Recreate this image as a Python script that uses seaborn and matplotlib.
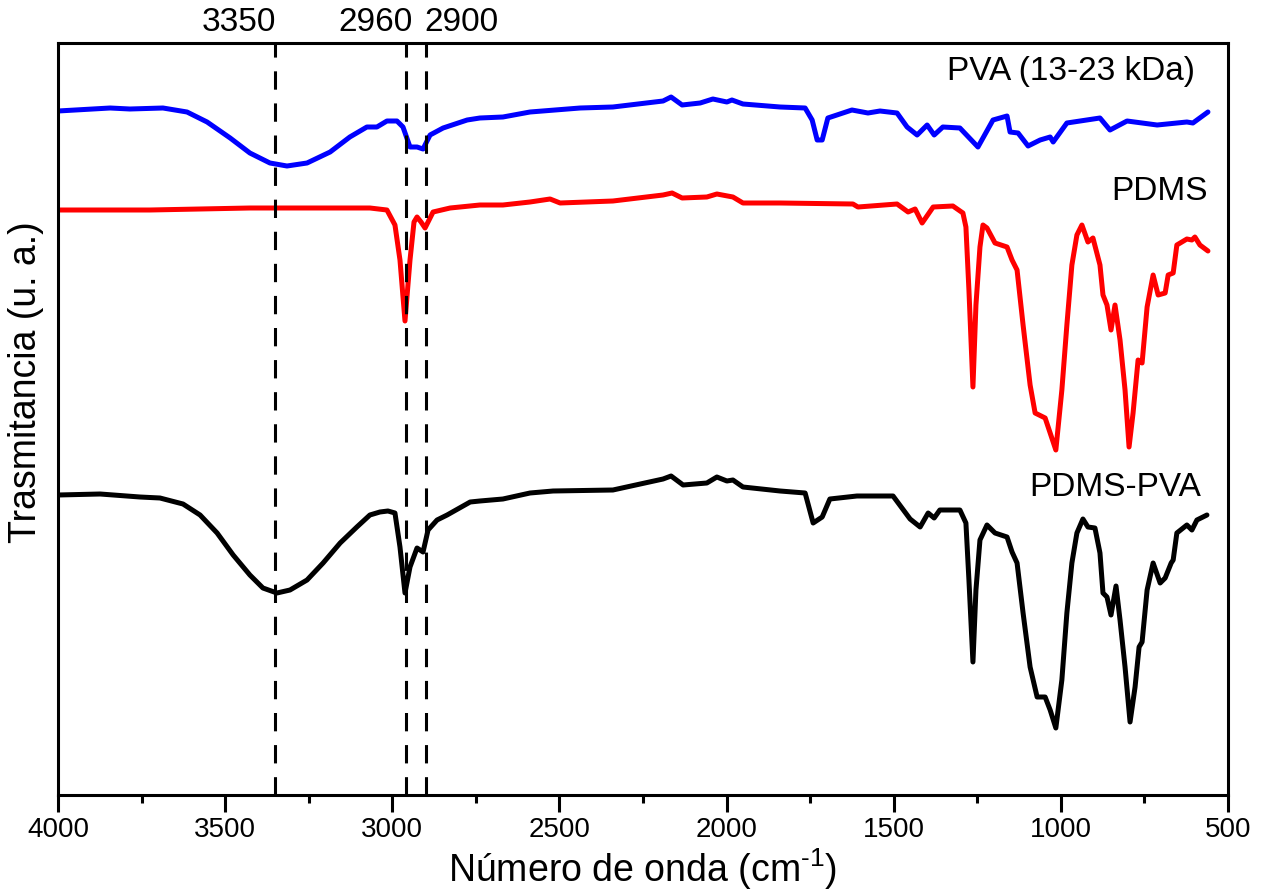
import numpy as np
import pandas as pd
import matplotlib
matplotlib.use("Agg")
import matplotlib.pyplot as plt
from matplotlib.ticker import MultipleLocator
import seaborn as sns

# ---------------- data (wavenumber cm-1, transmittance a.u., offset) ----------------
pva_wn = [4000, 3844, 3785, 3686, 3614, 3554, 3485, 3426, 3366, 3315, 3255, 3186, 3127, 3076,
          3046, 3016, 2986, 2968, 2947, 2926, 2908, 2887, 2848, 2776, 2738, 2669, 2588, 2438,
          2340, 2190, 2166, 2133, 2079, 2041, 1999, 1984, 1951, 1840, 1765, 1744, 1729, 1714,
          1697, 1670, 1625, 1577, 1541, 1490, 1460, 1430, 1400, 1379, 1353, 1302, 1248, 1203,
          1161, 1152, 1128, 1098, 1062, 1032, 1023, 982, 883, 853, 802, 712, 623, 605, 560]
pva_t = [684, 687, 686, 687, 683, 673, 657, 642, 632, 629, 632, 643, 658, 668,
         668, 674, 674, 668, 648, 648, 646, 660, 667, 675, 677, 678, 683, 687,
         688, 694, 698, 690, 692, 696, 693, 695, 691, 688, 687, 675, 655, 655,
         677, 680, 685, 682, 684, 682, 668, 660, 670, 660, 668, 667, 648, 675,
         679, 663, 662, 649, 655, 658, 653, 672, 677, 665, 674, 670, 673, 672, 683]

pdms_wn = [4000, 3725, 3426, 3067, 3016, 2992, 2977, 2962, 2947, 2935, 2926, 2914, 2902, 2878,
           2827, 2738, 2669, 2588, 2528, 2498, 2340, 2190, 2163, 2133, 2059, 2029, 1981, 1951,
           1840, 1622, 1607, 1490, 1457, 1436, 1415, 1382, 1323, 1293, 1284, 1275, 1263, 1254,
           1242, 1233, 1221, 1197, 1161, 1146, 1131, 1113, 1092, 1077, 1047, 1032, 1015, 997,
           982, 967, 952, 937, 919, 904, 883, 874, 862, 850, 838, 823, 808, 796,
           784, 769, 757, 742, 724, 709, 688, 679, 664, 653, 623, 608, 599, 584, 560]
pdms_t = [585, 585, 587, 587, 585, 570, 535, 474, 535, 573, 578, 573, 567, 583,
          587, 590, 590, 593, 596, 592, 594, 600, 602, 597, 598, 601, 598, 592,
          592, 591, 588, 591, 583, 586, 572, 588, 589, 582, 568, 505, 408, 490,
          548, 570, 567, 552, 548, 535, 525, 470, 410, 382, 377, 362, 345, 405,
          470, 530, 560, 570, 553, 557, 530, 500, 490, 465, 490, 455, 405, 348,
          382, 435, 432, 488, 520, 500, 502, 520, 522, 550, 556, 555, 558, 550, 544]

mix_wn = [4000, 3874, 3755, 3695, 3626, 3575, 3524, 3476, 3426, 3387, 3345, 3306, 3255, 3207,
          3156, 3106, 3067, 3037, 3013, 2992, 2977, 2962, 2947, 2926, 2908, 2893, 2866, 2836,
          2767, 2738, 2669, 2588, 2519, 2340, 2190, 2166, 2130, 2059, 2029, 1999, 1981, 1951,
          1840, 1765, 1741, 1714, 1691, 1610, 1502, 1451, 1421, 1397, 1379, 1362, 1302, 1284,
          1275, 1263, 1254, 1242, 1221, 1197, 1161, 1146, 1131, 1113, 1092, 1071, 1047, 1032,
          1015, 997, 982, 967, 952, 934, 919, 898, 883, 874, 862, 850, 835, 823,
          808, 793, 778, 766, 757, 742, 724, 703, 688, 670, 664, 653, 623, 608,
          593, 563]
mix_t = [300, 301, 298, 297, 291, 280, 262, 240, 220, 207, 202, 205, 215, 232,
         252, 268, 280, 283, 284, 282, 248, 202, 228, 247, 243, 265, 275, 280,
         293, 294, 296, 302, 304, 305, 316, 319, 310, 312, 318, 314, 315, 308,
         304, 302, 272, 278, 296, 299, 299, 276, 268, 282, 277, 285, 285, 272,
         215, 133, 205, 255, 270, 262, 258, 243, 232, 182, 128, 98, 98, 85,
         67, 115, 182, 232, 262, 276, 268, 267, 242, 202, 198, 180, 209, 175,
         128, 73, 108, 148, 153, 205, 232, 212, 217, 232, 235, 262, 270, 265,
         275, 280]

series_names = ["PVA (13-23 kDa)", "PDMS", "PDMS-PVA"]
series_colors = ["#0000FF", "#FF0000", "#000000"]
marker_lines = [3350, 2960, 2900]
marker_labels = ["3350", "2960", "2900"]
x_ticks = [4000, 3500, 3000, 2500, 2000, 1500, 1000, 500]

# ---------------- style ----------------
sns.set_theme(style="ticks")
plt.rcParams["font.family"] = ["Liberation Sans", "DejaVu Sans"]
plt.rcParams["mathtext.fontset"] = "custom"
plt.rcParams["mathtext.rm"] = "Liberation Sans"
plt.rcParams["mathtext.it"] = "Liberation Sans:italic"
plt.rcParams["text.color"] = "black"
plt.rcParams["axes.labelcolor"] = "black"
plt.rcParams["xtick.color"] = "black"
plt.rcParams["ytick.color"] = "black"
plt.rcParams["lines.solid_joinstyle"] = "round"
plt.rcParams["lines.solid_capstyle"] = "round"

fig = plt.figure(figsize=(12.61, 8.90), dpi=100)
ax = fig.add_axes([58 / 1261, 95 / 890, 1170 / 1261, 752 / 890])

frames = []
for name, wn, t in [(series_names[0], pva_wn, pva_t),
                    (series_names[1], pdms_wn, pdms_t),
                    (series_names[2], mix_wn, mix_t)]:
    frames.append(pd.DataFrame({"wn": wn, "t": t, "muestra": name}))
df = pd.concat(frames, ignore_index=True)

sns.lineplot(data=df, x="wn", y="t", hue="muestra", palette=series_colors,
             hue_order=series_names, linewidth=3.6, legend=False, ax=ax,
             sort=False, estimator=None)
for ln in ax.get_lines():
    ln.set_solid_joinstyle("round")
    ln.set_solid_capstyle("round")

for v in marker_lines:
    ax.axvline(v, color="black", linewidth=2.2, linestyle=(0, (6, 4.5)), zorder=5)

ax.set_xlim(4000, 500)
ax.set_ylim(0, 752)

# top labels for marker lines
ax.text(3347, 1.027, marker_labels[0], transform=ax.get_xaxis_transform(),
        ha="right", va="center", fontsize=24)
ax.text(2938, 1.027, marker_labels[1], transform=ax.get_xaxis_transform(),
        ha="right", va="center", fontsize=24)
ax.text(2905, 1.027, marker_labels[2], transform=ax.get_xaxis_transform(),
        ha="left", va="center", fontsize=24)

# series annotations
ax.text(599, 795 - 72, series_names[0], ha="right", va="center", fontsize=24)
ax.text(560, 795 - 192, series_names[1], ha="right", va="center", fontsize=24)
ax.text(581, 795 - 488, series_names[2], ha="right", va="center", fontsize=24)

ax.set_xticks(x_ticks)
ax.set_xticklabels([str(t) for t in x_ticks])
ax.xaxis.set_minor_locator(MultipleLocator(250))
ax.tick_params(axis="x", which="major", direction="out", length=12, width=2.2,
               labelsize=20, pad=4, top=False, colors="black")
ax.tick_params(axis="x", which="minor", direction="out", length=6, width=2.2, top=False)
ax.set_yticks([])
ax.tick_params(axis="y", left=False, right=False)

for s in ax.spines.values():
    s.set_visible(True)
    s.set_linewidth(2.2)
    s.set_color("black")

ax.set_xlabel("Número de onda (cm$^{\\text{-1}}$)", fontsize=27, labelpad=2)
ax.set_ylabel("Trasmitancia (u. a.)", fontsize=27)
ax.yaxis.set_label_coords(-0.012, 0.549)

fig.savefig("out.png", dpi=100, facecolor="white")
